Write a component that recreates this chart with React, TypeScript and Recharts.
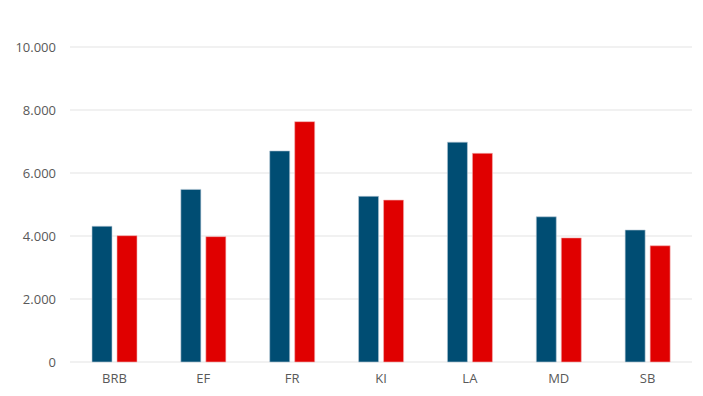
import React from 'react';
import { BarChart, Bar, XAxis, YAxis, CartesianGrid } from 'recharts';

// Regions on the x axis
const regions = ['BRB', 'EF', 'FR', 'KI', 'LA', 'MD', 'SB'];
// Two series
const seriesBlue = [4310, 5480, 6700, 5260, 6980, 4610, 4190];
const seriesRed = [4010, 3980, 7630, 5140, 6625, 3940, 3690];
const yTicks = [0, 2000, 4000, 6000, 8000, 10000];

const data = regions.map((name, i) => ({
  name,
  blue: seriesBlue[i],
  red: seriesRed[i],
}));

// German thousands separator: 10000 -> 10.000
const fmt = (v: number) => String(v).replace(/\B(?=(\d{3})+(?!\d))/g, '.');

const tickStyle = { fill: '#595959', fontSize: 13, fontFamily: 'Open Sans, sans-serif' };

export default function App() {
  return (
    <div style={{ position: 'absolute', left: 0, top: 0, width: 703, height: 396, background: '#fff' }}>
      <BarChart
        width={703}
        height={396}
        data={data}
        margin={{ top: 47, right: 11, bottom: 0, left: 0 }}
        barGap={5}
        barSize={20}
      >
        <CartesianGrid stroke="#e3e3e3" vertical={false} />
        <XAxis
          dataKey="name"
          axisLine={false}
          tickLine={false}
          tick={tickStyle}
          height={34}
          tickSize={0}
          tickMargin={12}
        />
        <YAxis
          width={70}
          domain={[0, 10000]}
          ticks={yTicks}
          axisLine={false}
          tickLine={false}
          tickSize={0}
          tickMargin={14}
          tick={tickStyle}
          tickFormatter={fmt}
        />
        <Bar dataKey="blue" fill="#004d73" stroke="#b8c9d6" strokeWidth={0.6} isAnimationActive={false} />
        <Bar dataKey="red" fill="#e00000" stroke="#f3b0b0" strokeWidth={0.6} isAnimationActive={false} />
      </BarChart>
    </div>
  );
}
